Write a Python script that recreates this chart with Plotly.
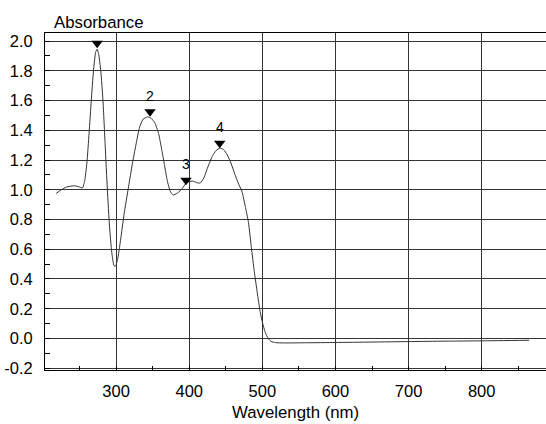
import plotly.graph_objects as go

# Spectrum
wavelength = [218, 225, 232, 243, 250, 254, 257, 260, 263, 266, 269, 272, 274, 276, 279,
              282, 285, 288, 291, 294, 297, 299, 302, 306, 311, 317, 322, 327, 332, 337,
              343, 348, 353, 358, 362, 366, 370, 374, 378, 383, 389, 395, 400, 405, 410,
              415, 420, 426, 432, 437, 442, 447, 452, 457, 462, 467, 472, 477, 481, 485,
              489, 493, 497, 500, 504, 508, 512, 518, 530, 560, 600, 650, 700, 750, 800, 865]
absorbance = [0.975, 1.000, 1.018, 1.027, 1.018, 1.012, 1.06, 1.18, 1.38, 1.60, 1.80, 1.925, 1.945, 1.915, 1.80,
              1.60, 1.30, 1.00, 0.75, 0.58, 0.49, 0.485, 0.53, 0.66, 0.84, 1.02, 1.17, 1.30, 1.42, 1.475,
              1.49, 1.48, 1.45, 1.38, 1.28, 1.17, 1.06, 0.99, 0.965, 0.975, 1.00, 1.04, 1.055, 1.058, 1.048,
              1.045, 1.08, 1.16, 1.23, 1.265, 1.28, 1.27, 1.235, 1.18, 1.11, 1.045, 0.99, 0.88, 0.78, 0.61,
              0.45, 0.31, 0.18, 0.11, 0.04, 0.0, -0.02, -0.028, -0.030, -0.029, -0.027, -0.024, -0.021, -0.018, -0.016, -0.012]

peak_wl = [274, 346.4, 395.6, 441.7]
peak_abs = [1.985, 1.524, 1.064, 1.313]
peak_labels = ["", "2", "3", "4"]

x_ticks = [300, 400, 500, 600, 700, 800]
y_ticks = [-0.2, 0.0, 0.2, 0.4, 0.6, 0.8, 1.0, 1.2, 1.4, 1.6, 1.8, 2.0]
y_ticktext = ["%.1f" % v for v in y_ticks]

FONT = "Liberation Sans, Arial, sans-serif"

fig = go.Figure()
fig.add_trace(go.Scatter(x=wavelength, y=absorbance, mode="lines",
                         line=dict(color="#333333", width=1, shape="spline", smoothing=0.5),
                         hoverinfo="skip", showlegend=False))
fig.add_trace(go.Scatter(x=peak_wl, y=peak_abs, mode="markers",
                         marker=dict(symbol="triangle-down", size=10, color="black"),
                         showlegend=False, cliponaxis=False))

for wl, a, lab in zip(peak_wl, peak_abs, peak_labels):
    if lab:
        fig.add_annotation(x=wl, y=a, text=lab, showarrow=False, yshift=16,
                           font=dict(family=FONT, size=14, color="black"))

fig.add_annotation(xref="paper", yref="paper", x=0.013, y=1.0326, xanchor="left", yanchor="middle",
                   text="Absorbance", showarrow=False, font=dict(family=FONT, size=16.8, color="black"))
fig.add_annotation(xref="paper", yref="paper", x=0.5, y=-0.127, xanchor="center", yanchor="middle",
                   text="Wavelength (nm)", showarrow=False, font=dict(family=FONT, size=16.8, color="black"))

fig.update_layout(
    width=546, height=424,
    margin=dict(l=45, r=0, t=33, b=54, autoexpand=False),
    paper_bgcolor="white", plot_bgcolor="white",
    font=dict(family=FONT, size=16.5, color="black"),
    xaxis=dict(range=[202.7, 888], tickvals=x_ticks, ticks="", showgrid=True, automargin=False,
               gridcolor="#333333", gridwidth=1, showline=True, linecolor="black", linewidth=1,
               mirror=True, zeroline=False, ticklabelstandoff=6,
               minor=dict(dtick=50, tick0=0, ticks="inside", ticklen=4, tickcolor="black", showgrid=False)),
    yaxis=dict(range=[-0.212, 2.054], tickvals=y_ticks, ticktext=y_ticktext, ticks="", showgrid=True,
               automargin=False,
               gridcolor="#333333", gridwidth=1, showline=True, linecolor="black", linewidth=1,
               zeroline=False, ticklabelstandoff=8,
               minor=dict(dtick=0.1, tick0=0, ticks="inside", ticklen=5, tickcolor="black", showgrid=False)),
)

fig.write_html("out.html", config={"displayModeBar": False},
               post_script="document.body.style.margin='0';document.body.style.overflow='hidden';")
